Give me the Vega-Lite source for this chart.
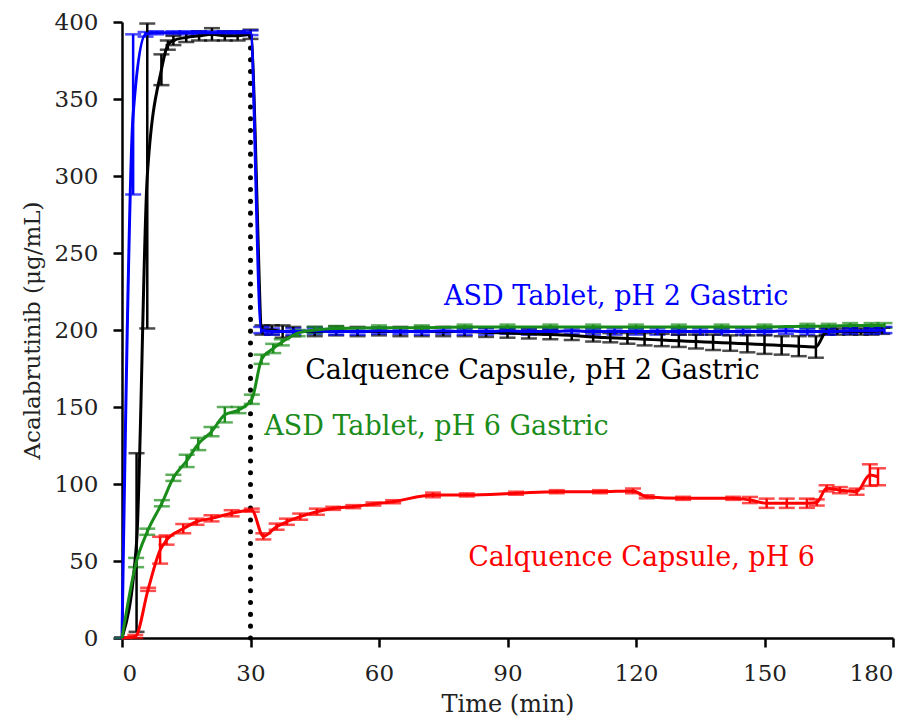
{
  "$schema": "https://vega.github.io/schema/vega-lite/v6.json",
  "width": 771,
  "height": 616,
  "autosize": {"type": "none"},
  "padding": {"left": 122, "top": 22, "right": 23, "bottom": 79},
  "background": "white",
  "config": {
    "view": {"stroke": null},
    "axis": {
      "grid": false,
      "domainColor": "#000000",
      "domainWidth": 2.5,
      "tickColor": "#000000",
      "tickWidth": 2.5,
      "tickSize": 9,
      "labelFont": "DejaVu Serif",
      "labelFontSize": 23,
      "labelColor": "#222222",
      "labelPadding": 15,
      "titleFont": "DejaVu Serif",
      "titleFontWeight": "normal",
      "titleColor": "#222222"
    }
  },
  "datasets": {
    "conc": [
      {"s": "Calquence Capsule, pH 6", "t": 0, "v": 0, "e": 0},
      {"s": "Calquence Capsule, pH 6", "t": 3.1, "v": 1, "e": 1},
      {"s": "Calquence Capsule, pH 6", "t": 6.1, "v": 31.6, "e": 1},
      {"s": "Calquence Capsule, pH 6", "t": 8.9, "v": 57, "e": 8.7},
      {"s": "Calquence Capsule, pH 6", "t": 10.4, "v": 63.6, "e": 3},
      {"s": "Calquence Capsule, pH 6", "t": 14.3, "v": 71, "e": 3},
      {"s": "Calquence Capsule, pH 6", "t": 17.4, "v": 75.5, "e": 2},
      {"s": "Calquence Capsule, pH 6", "t": 20.9, "v": 77.7, "e": 2},
      {"s": "Calquence Capsule, pH 6", "t": 25.6, "v": 81, "e": 2},
      {"s": "Calquence Capsule, pH 6", "t": 30.3, "v": 83, "e": 1},
      {"s": "Calquence Capsule, pH 6", "t": 33, "v": 66, "e": 2},
      {"s": "Calquence Capsule, pH 6", "t": 36.1, "v": 72.3, "e": 2},
      {"s": "Calquence Capsule, pH 6", "t": 38.5, "v": 75.5, "e": 2},
      {"s": "Calquence Capsule, pH 6", "t": 41.6, "v": 78.8, "e": 2},
      {"s": "Calquence Capsule, pH 6", "t": 45.5, "v": 82, "e": 2},
      {"s": "Calquence Capsule, pH 6", "t": 49.3, "v": 84.2, "e": 1},
      {"s": "Calquence Capsule, pH 6", "t": 54, "v": 85.3, "e": 1},
      {"s": "Calquence Capsule, pH 6", "t": 58.7, "v": 87, "e": 1},
      {"s": "Calquence Capsule, pH 6", "t": 63.3, "v": 88.5, "e": 1},
      {"s": "Calquence Capsule, pH 6", "t": 72.6, "v": 92.9, "e": 1.5},
      {"s": "Calquence Capsule, pH 6", "t": 80.5, "v": 92.9, "e": 1},
      {"s": "Calquence Capsule, pH 6", "t": 92, "v": 94, "e": 1},
      {"s": "Calquence Capsule, pH 6", "t": 101.5, "v": 95, "e": 1},
      {"s": "Calquence Capsule, pH 6", "t": 111.6, "v": 95, "e": 1},
      {"s": "Calquence Capsule, pH 6", "t": 119.3, "v": 95.5, "e": 1.5},
      {"s": "Calquence Capsule, pH 6", "t": 122.5, "v": 91.7, "e": 1},
      {"s": "Calquence Capsule, pH 6", "t": 131, "v": 90.7, "e": 1},
      {"s": "Calquence Capsule, pH 6", "t": 142.7, "v": 90.7, "e": 1},
      {"s": "Calquence Capsule, pH 6", "t": 146.6, "v": 89.6, "e": 2},
      {"s": "Calquence Capsule, pH 6", "t": 150.5, "v": 87.5, "e": 3},
      {"s": "Calquence Capsule, pH 6", "t": 155.2, "v": 87.5, "e": 3},
      {"s": "Calquence Capsule, pH 6", "t": 159.9, "v": 87.5, "e": 3},
      {"s": "Calquence Capsule, pH 6", "t": 162.2, "v": 88, "e": 2},
      {"s": "Calquence Capsule, pH 6", "t": 164.5, "v": 97.2, "e": 2},
      {"s": "Calquence Capsule, pH 6", "t": 167.6, "v": 96, "e": 2},
      {"s": "Calquence Capsule, pH 6", "t": 171.5, "v": 95, "e": 2},
      {"s": "Calquence Capsule, pH 6", "t": 174.6, "v": 105.8, "e": 7},
      {"s": "Calquence Capsule, pH 6", "t": 176.5, "v": 104.7, "e": 5.5},

      {"s": "Calquence Capsule,  pH 2 Gastric", "t": 0, "v": 0, "e": 0},
      {"s": "Calquence Capsule,  pH 2 Gastric", "t": 3.4, "v": 62, "e": 58},
      {"s": "Calquence Capsule,  pH 2 Gastric", "t": 5.9, "v": 300, "e": 99},
      {"s": "Calquence Capsule,  pH 2 Gastric", "t": 9.2, "v": 369, "e": 10},
      {"s": "Calquence Capsule,  pH 2 Gastric", "t": 10.7, "v": 385, "e": 3},
      {"s": "Calquence Capsule,  pH 2 Gastric", "t": 12, "v": 388, "e": 3},
      {"s": "Calquence Capsule,  pH 2 Gastric", "t": 15, "v": 390, "e": 3},
      {"s": "Calquence Capsule,  pH 2 Gastric", "t": 18, "v": 391, "e": 3},
      {"s": "Calquence Capsule,  pH 2 Gastric", "t": 21, "v": 392, "e": 4},
      {"s": "Calquence Capsule,  pH 2 Gastric", "t": 24, "v": 391, "e": 3},
      {"s": "Calquence Capsule,  pH 2 Gastric", "t": 27, "v": 391, "e": 3},
      {"s": "Calquence Capsule,  pH 2 Gastric", "t": 30, "v": 392, "e": 3},
      {"s": "Calquence Capsule,  pH 2 Gastric", "t": 32.8, "v": 200, "e": 3},
      {"s": "Calquence Capsule,  pH 2 Gastric", "t": 35, "v": 200, "e": 3},
      {"s": "Calquence Capsule,  pH 2 Gastric", "t": 37.5, "v": 199, "e": 4},
      {"s": "Calquence Capsule,  pH 2 Gastric", "t": 40, "v": 199, "e": 3},
      {"s": "Calquence Capsule,  pH 2 Gastric", "t": 45, "v": 199, "e": 3},
      {"s": "Calquence Capsule,  pH 2 Gastric", "t": 50, "v": 199.5, "e": 3},
      {"s": "Calquence Capsule,  pH 2 Gastric", "t": 55, "v": 199, "e": 3},
      {"s": "Calquence Capsule,  pH 2 Gastric", "t": 60, "v": 199, "e": 2.5},
      {"s": "Calquence Capsule,  pH 2 Gastric", "t": 65, "v": 199, "e": 3},
      {"s": "Calquence Capsule,  pH 2 Gastric", "t": 70, "v": 199, "e": 3},
      {"s": "Calquence Capsule,  pH 2 Gastric", "t": 75, "v": 199, "e": 3},
      {"s": "Calquence Capsule,  pH 2 Gastric", "t": 80, "v": 199, "e": 3},
      {"s": "Calquence Capsule,  pH 2 Gastric", "t": 85, "v": 198.5, "e": 3},
      {"s": "Calquence Capsule,  pH 2 Gastric", "t": 90, "v": 198, "e": 3},
      {"s": "Calquence Capsule,  pH 2 Gastric", "t": 95, "v": 197.5, "e": 3},
      {"s": "Calquence Capsule,  pH 2 Gastric", "t": 100, "v": 197, "e": 3},
      {"s": "Calquence Capsule,  pH 2 Gastric", "t": 105, "v": 196.5, "e": 3},
      {"s": "Calquence Capsule,  pH 2 Gastric", "t": 110, "v": 195.5, "e": 3},
      {"s": "Calquence Capsule,  pH 2 Gastric", "t": 114, "v": 195, "e": 3},
      {"s": "Calquence Capsule,  pH 2 Gastric", "t": 118, "v": 194.5, "e": 3.5},
      {"s": "Calquence Capsule,  pH 2 Gastric", "t": 122, "v": 194, "e": 4},
      {"s": "Calquence Capsule,  pH 2 Gastric", "t": 126, "v": 193.5, "e": 4},
      {"s": "Calquence Capsule,  pH 2 Gastric", "t": 130, "v": 193, "e": 4},
      {"s": "Calquence Capsule,  pH 2 Gastric", "t": 134, "v": 192.5, "e": 4.5},
      {"s": "Calquence Capsule,  pH 2 Gastric", "t": 138, "v": 192, "e": 5},
      {"s": "Calquence Capsule,  pH 2 Gastric", "t": 142, "v": 191.5, "e": 5},
      {"s": "Calquence Capsule,  pH 2 Gastric", "t": 146, "v": 191, "e": 5.5},
      {"s": "Calquence Capsule,  pH 2 Gastric", "t": 150, "v": 190.5, "e": 6},
      {"s": "Calquence Capsule,  pH 2 Gastric", "t": 154, "v": 190, "e": 6},
      {"s": "Calquence Capsule,  pH 2 Gastric", "t": 158, "v": 189.5, "e": 6.5},
      {"s": "Calquence Capsule,  pH 2 Gastric", "t": 162, "v": 189, "e": 7},
      {"s": "Calquence Capsule,  pH 2 Gastric", "t": 164.5, "v": 199, "e": 2},
      {"s": "Calquence Capsule,  pH 2 Gastric", "t": 167, "v": 199, "e": 2},
      {"s": "Calquence Capsule,  pH 2 Gastric", "t": 170, "v": 199, "e": 2},
      {"s": "Calquence Capsule,  pH 2 Gastric", "t": 172.5, "v": 199, "e": 2},
      {"s": "Calquence Capsule,  pH 2 Gastric", "t": 175, "v": 199, "e": 2},
      {"s": "Calquence Capsule,  pH 2 Gastric", "t": 177.5, "v": 199.5, "e": 2},

      {"s": "ASD Tablet, pH 2 Gastric", "t": 0, "v": 0, "e": 0},
      {"s": "ASD Tablet, pH 2 Gastric", "t": 2.6, "v": 340, "e": 52},
      {"s": "ASD Tablet, pH 2 Gastric", "t": 5.5, "v": 392, "e": 1.5},
      {"s": "ASD Tablet, pH 2 Gastric", "t": 8, "v": 393, "e": 1},
      {"s": "ASD Tablet, pH 2 Gastric", "t": 12, "v": 393, "e": 1},
      {"s": "ASD Tablet, pH 2 Gastric", "t": 15, "v": 393, "e": 1},
      {"s": "ASD Tablet, pH 2 Gastric", "t": 18, "v": 393, "e": 1},
      {"s": "ASD Tablet, pH 2 Gastric", "t": 21, "v": 393, "e": 1},
      {"s": "ASD Tablet, pH 2 Gastric", "t": 24, "v": 393, "e": 1},
      {"s": "ASD Tablet, pH 2 Gastric", "t": 27, "v": 393, "e": 1},
      {"s": "ASD Tablet, pH 2 Gastric", "t": 30, "v": 393, "e": 1.5},
      {"s": "ASD Tablet, pH 2 Gastric", "t": 32.5, "v": 200, "e": 2},
      {"s": "ASD Tablet, pH 2 Gastric", "t": 35, "v": 199, "e": 2},
      {"s": "ASD Tablet, pH 2 Gastric", "t": 40, "v": 199, "e": 2},
      {"s": "ASD Tablet, pH 2 Gastric", "t": 45, "v": 199.5, "e": 2},
      {"s": "ASD Tablet, pH 2 Gastric", "t": 50, "v": 199, "e": 2},
      {"s": "ASD Tablet, pH 2 Gastric", "t": 55, "v": 199, "e": 2},
      {"s": "ASD Tablet, pH 2 Gastric", "t": 60, "v": 199.5, "e": 2},
      {"s": "ASD Tablet, pH 2 Gastric", "t": 65, "v": 199, "e": 1.5},
      {"s": "ASD Tablet, pH 2 Gastric", "t": 70, "v": 199, "e": 2},
      {"s": "ASD Tablet, pH 2 Gastric", "t": 75, "v": 199.5, "e": 2},
      {"s": "ASD Tablet, pH 2 Gastric", "t": 80, "v": 199, "e": 2},
      {"s": "ASD Tablet, pH 2 Gastric", "t": 85, "v": 199, "e": 2},
      {"s": "ASD Tablet, pH 2 Gastric", "t": 90, "v": 199.5, "e": 2},
      {"s": "ASD Tablet, pH 2 Gastric", "t": 95, "v": 199, "e": 2},
      {"s": "ASD Tablet, pH 2 Gastric", "t": 100, "v": 199, "e": 2},
      {"s": "ASD Tablet, pH 2 Gastric", "t": 105, "v": 199.5, "e": 2},
      {"s": "ASD Tablet, pH 2 Gastric", "t": 110, "v": 199, "e": 2},
      {"s": "ASD Tablet, pH 2 Gastric", "t": 115, "v": 199, "e": 2},
      {"s": "ASD Tablet, pH 2 Gastric", "t": 120, "v": 199, "e": 2},
      {"s": "ASD Tablet, pH 2 Gastric", "t": 125, "v": 199, "e": 2},
      {"s": "ASD Tablet, pH 2 Gastric", "t": 130, "v": 199, "e": 2},
      {"s": "ASD Tablet, pH 2 Gastric", "t": 135, "v": 199, "e": 2},
      {"s": "ASD Tablet, pH 2 Gastric", "t": 140, "v": 199, "e": 2},
      {"s": "ASD Tablet, pH 2 Gastric", "t": 145, "v": 199, "e": 2},
      {"s": "ASD Tablet, pH 2 Gastric", "t": 150, "v": 199, "e": 2},
      {"s": "ASD Tablet, pH 2 Gastric", "t": 155, "v": 199.5, "e": 2},
      {"s": "ASD Tablet, pH 2 Gastric", "t": 160, "v": 199, "e": 2},
      {"s": "ASD Tablet, pH 2 Gastric", "t": 165, "v": 199, "e": 2},
      {"s": "ASD Tablet, pH 2 Gastric", "t": 170, "v": 199.5, "e": 2},
      {"s": "ASD Tablet, pH 2 Gastric", "t": 175, "v": 199.5, "e": 2},
      {"s": "ASD Tablet, pH 2 Gastric", "t": 178, "v": 200, "e": 2},

      {"s": "ASD Tablet, pH 6 Gastric", "t": 0, "v": 0, "e": 0},
      {"s": "ASD Tablet, pH 6 Gastric", "t": 3.3, "v": 49, "e": 3},
      {"s": "ASD Tablet, pH 6 Gastric", "t": 5.9, "v": 69, "e": 2},
      {"s": "ASD Tablet, pH 6 Gastric", "t": 9.3, "v": 87.5, "e": 2},
      {"s": "ASD Tablet, pH 6 Gastric", "t": 12, "v": 104, "e": 2},
      {"s": "ASD Tablet, pH 6 Gastric", "t": 15.1, "v": 115, "e": 4},
      {"s": "ASD Tablet, pH 6 Gastric", "t": 17.8, "v": 126, "e": 4},
      {"s": "ASD Tablet, pH 6 Gastric", "t": 20.9, "v": 134, "e": 3},
      {"s": "ASD Tablet, pH 6 Gastric", "t": 24, "v": 145, "e": 5},
      {"s": "ASD Tablet, pH 6 Gastric", "t": 27.2, "v": 148, "e": 2},
      {"s": "ASD Tablet, pH 6 Gastric", "t": 30.3, "v": 155, "e": 3},
      {"s": "ASD Tablet, pH 6 Gastric", "t": 32.6, "v": 181, "e": 3},
      {"s": "ASD Tablet, pH 6 Gastric", "t": 35.3, "v": 188, "e": 3},
      {"s": "ASD Tablet, pH 6 Gastric", "t": 37.3, "v": 192, "e": 2},
      {"s": "ASD Tablet, pH 6 Gastric", "t": 41, "v": 198, "e": 2},
      {"s": "ASD Tablet, pH 6 Gastric", "t": 45, "v": 200, "e": 2},
      {"s": "ASD Tablet, pH 6 Gastric", "t": 50, "v": 201, "e": 1.5},
      {"s": "ASD Tablet, pH 6 Gastric", "t": 60, "v": 201.5, "e": 1.5},
      {"s": "ASD Tablet, pH 6 Gastric", "t": 70, "v": 201.5, "e": 1.5},
      {"s": "ASD Tablet, pH 6 Gastric", "t": 80, "v": 202, "e": 1.5},
      {"s": "ASD Tablet, pH 6 Gastric", "t": 90, "v": 202, "e": 1.5},
      {"s": "ASD Tablet, pH 6 Gastric", "t": 100, "v": 202, "e": 1.5},
      {"s": "ASD Tablet, pH 6 Gastric", "t": 110, "v": 202, "e": 1.5},
      {"s": "ASD Tablet, pH 6 Gastric", "t": 120, "v": 202, "e": 1.5},
      {"s": "ASD Tablet, pH 6 Gastric", "t": 130, "v": 202, "e": 1.5},
      {"s": "ASD Tablet, pH 6 Gastric", "t": 140, "v": 202, "e": 1.5},
      {"s": "ASD Tablet, pH 6 Gastric", "t": 150, "v": 202, "e": 1.5},
      {"s": "ASD Tablet, pH 6 Gastric", "t": 160, "v": 202.5, "e": 1.5},
      {"s": "ASD Tablet, pH 6 Gastric", "t": 165, "v": 202.5, "e": 1.5},
      {"s": "ASD Tablet, pH 6 Gastric", "t": 170, "v": 203, "e": 1.5},
      {"s": "ASD Tablet, pH 6 Gastric", "t": 175, "v": 203, "e": 1.5},
      {"s": "ASD Tablet, pH 6 Gastric", "t": 178, "v": 203, "e": 1.5}
    ],
    "labels": [
      {"s": "ASD Tablet, pH 2 Gastric", "label": "ASD Tablet, pH 2 Gastric", "t": 115.4, "v": 221.4},
      {"s": "Calquence Capsule,  pH 2 Gastric", "label": "Calquence Capsule,  pH 2 Gastric", "t": 95.8, "v": 173.4},
      {"s": "ASD Tablet, pH 6 Gastric", "label": "ASD Tablet, pH 6 Gastric", "t": 73.4, "v": 136.7},
      {"s": "Calquence Capsule, pH 6", "label": "Calquence Capsule, pH 6", "t": 121.3, "v": 52}
    ],
    "divider": [
      {"t": 30}
    ]
  },
  "encoding": {
    "x": {
      "field": "t",
      "type": "quantitative",
      "scale": {"domain": [0, 180], "nice": false},
      "axis": {"values": [0, 30, 60, 90, 120, 150, 180], "title": "Time (min)", "titleFontSize": 24, "titlePadding": 7}
    }
  },
  "layer": [
    {
      "data": {"name": "divider"},
      "mark": {"type": "rule", "color": "#000000", "strokeWidth": 5, "strokeDash": [0.1, 11.7], "strokeCap": "round"},
      "encoding": {
        "y": {"datum": 0, "type": "quantitative", "scale": {"domain": [0, 400], "nice": false}, "axis": {"values": [0, 50, 100, 150, 200, 250, 300, 350, 400], "title": "Acalabrutinib (μg/mL)", "titleFontSize": 23, "titlePadding": 10}},
        "y2": {"datum": 396}
      }
    },
    {
      "data": {"name": "conc"},
      "mark": {"type": "errorbar", "ticks": {"size": 16, "thickness": 2.5}, "rule": {"strokeWidth": 2.5}},
      "encoding": {
        "y": {"field": "v", "type": "quantitative", "title": "Acalabrutinib (μg/mL)"},
        "yError": {"field": "e"},
        "color": {
          "field": "s",
          "type": "nominal",
          "scale": {
            "domain": ["Calquence Capsule, pH 6", "Calquence Capsule,  pH 2 Gastric", "ASD Tablet, pH 2 Gastric", "ASD Tablet, pH 6 Gastric"],
            "range": ["#ff0000", "#000000", "#0000ff", "#1a8c1a"]
          },
          "legend": null
        }
      }
    },
    {
      "data": {"name": "conc"},
      "mark": {"type": "line", "interpolate": "monotone", "strokeWidth": 3},
      "encoding": {
        "y": {"field": "v", "type": "quantitative", "title": "Acalabrutinib (μg/mL)"},
        "color": {"field": "s", "type": "nominal", "legend": null}
      }
    },
    {
      "data": {"name": "labels"},
      "mark": {"type": "text", "font": "DejaVu Serif", "fontSize": 27, "align": "center", "baseline": "middle"},
      "encoding": {
        "y": {"field": "v", "type": "quantitative", "title": "Acalabrutinib (μg/mL)"},
        "text": {"field": "label"},
        "color": {"field": "s", "type": "nominal", "legend": null}
      }
    }
  ]
}
